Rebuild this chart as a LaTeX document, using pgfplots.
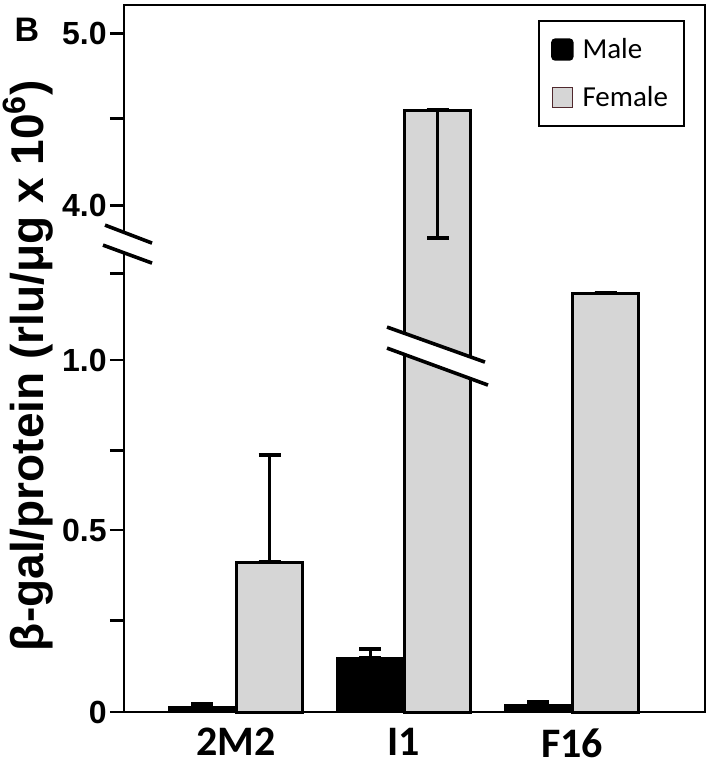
\documentclass[border=0pt]{standalone}
\usepackage{pgfplots}
\pgfplotsset{compat=1.18}
\usepackage{fontspec}
\setmainfont{Liberation Sans}
\newfontfamily\calib{Carlito}
\definecolor{fem}{RGB}{214,214,214}
\definecolor{femedge}{RGB}{80,40,45}
\begin{document}
\begin{tikzpicture}
% y values are given in plotted units: lower segment 0..1.3 is linear (value = position),
% upper segment: position = 1.440 + (value-4)*0.4886  (4.0 -> 1.440, 5.0 -> 1.929)
\begin{axis}[
  name=ax,
  scale only axis, width=290.5pt, height=353.5pt,
  xmin=-0.667, xmax=2.792, ymin=0, ymax=2.009,
  axis line style={line width=1.4pt},
  xtick={0,1,2}, xticklabels={2M2,I1,F16},
  xtick style={draw=none},
  xticklabel style={font=\calib\bfseries\fontsize{21}{21}\selectfont, inner sep=0pt, yshift=-1pt},
  ytick={0,0.261,0.517,0.744,1,1.247,1.440,1.6875,1.929},
  yticklabels={0,,0.5,,1.0,,4.0,,5.0},
  ytick pos=left, tick align=outside, major tick length=7pt,
  ytick style={line width=1.4pt, black},
  yticklabel style={font=\bfseries\fontsize{16}{16}\selectfont, inner sep=1.5pt},
  ylabel={β-gal/protein (rlu/μg x 10\textsuperscript{6})},
  ylabel style={font=\bfseries\fontsize{23}{23}\selectfont, at={(axis description cs:-0.165,0.49)}, anchor=center},
  ybar, bar width=0.395, bar shift=0pt,
  clip=false,
  legend style={at={(axis description cs:0.9656,0.9788)}, anchor=north east, draw=black, line width=1pt,
    inner xsep=6pt, inner ysep=6.5pt, row sep=8.5pt, column sep=2.5pt,
    font=\calib\fontsize{14.5}{14.5}\selectfont, cells={anchor=west}},
]
\addplot[fill=black, draw=black, line width=1.2pt,
  legend image code/.code={\fill[black, rounded corners=1.5pt] (0pt,-5pt) rectangle (10pt,5pt);},
  error bars/.cd, y dir=both, y explicit,
  error bar style={line width=1.3pt, black},
  error mark options={rotate=90, mark size=5.5pt, line width=1.8pt, black}]
  coordinates {
  (-0.2,0.014) += (0,0.009) -= (0,0)
  (0.8,0.153) += (0,0.026) -= (0,0)
  (1.8,0.020) += (0,0.008) -= (0,0)
  };
\addlegendentry{Male}
\addplot[fill=fem, draw=black, line width=1.5pt,
  legend image code/.code={\draw[fill=fem, draw=femedge, line width=0.8pt] (0pt,-5pt) rectangle (10pt,5pt);},
  error bars/.cd, y dir=both, y explicit,
  error bar style={line width=1.3pt, black},
  error mark options={rotate=90, mark size=5.5pt, line width=1.8pt, black}]
  coordinates {
  (0.2,0.426) += (0,0.304) -= (0,0)
  (1.2,1.710) += (0,0) -= (0,0.363)
  (2.2,1.190) += (0,0) -= (0,0)
  };
\addlegendentry{Female}
% break of the I1 female bar
\fill[white] (axis cs:0.899,1.0938) -- (axis cs:1.482,0.9943) -- (axis cs:1.5,0.929) -- (axis cs:0.899,1.034) -- cycle;
\draw[line width=1.8pt] (axis cs:0.899,1.0938) -- (axis cs:1.482,0.9943);
\draw[line width=1.8pt] (axis cs:0.899,1.034) -- (axis cs:1.5,0.929);
% break of the y axis
\fill[white] (axis cs:-0.780,1.3835) -- (axis cs:-0.5,1.3324) -- (axis cs:-0.5,1.2756) -- (axis cs:-0.792,1.3267) -- cycle;
\draw[line width=1.8pt] (axis cs:-0.780,1.3835) -- (axis cs:-0.5,1.3324);
\draw[line width=1.8pt] (axis cs:-0.792,1.3267) -- (axis cs:-0.5,1.2756);
\node[font=\bfseries\fontsize{17}{17}\selectfont] at (axis description cs:-0.167,0.9646) {B};
\end{axis}
\pgfresetboundingbox
\path[use as bounding box] ([shift={(-62pt,-26.5pt)}]ax.south west) rectangle ([shift={(2.5pt,2.5pt)}]ax.north east);
\end{tikzpicture}
\end{document}
